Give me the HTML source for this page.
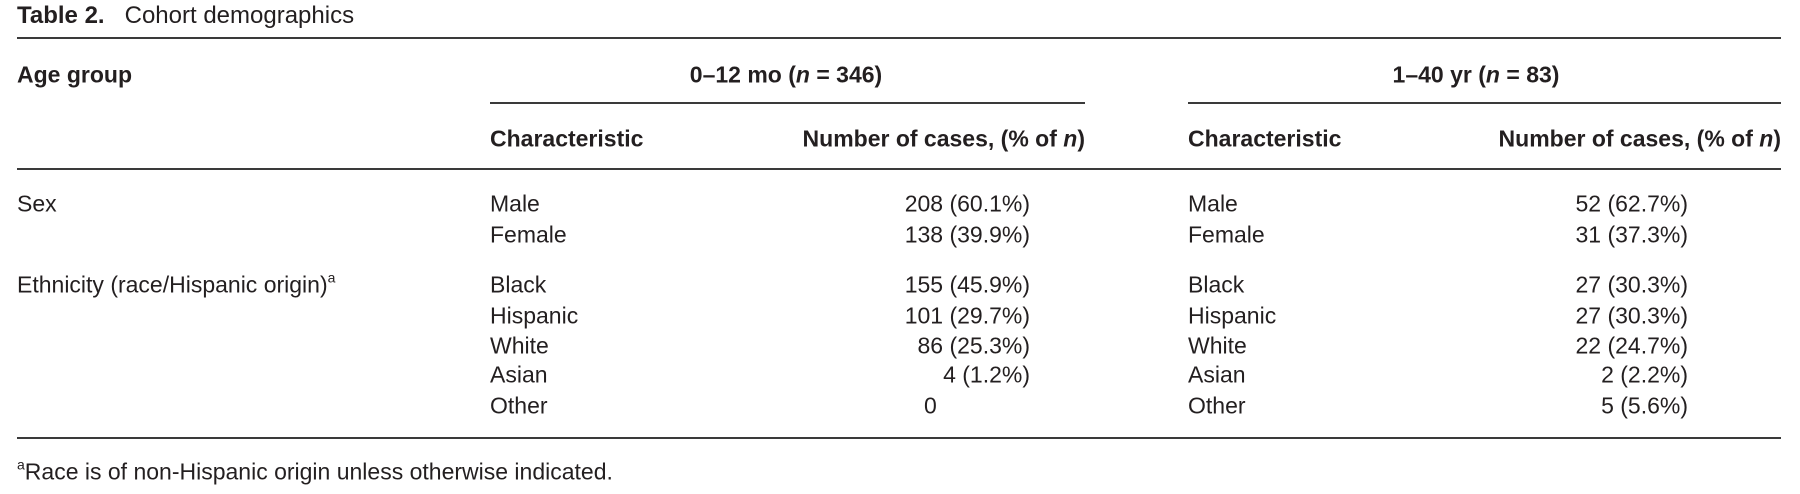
<!DOCTYPE html>
<html><head><meta charset="utf-8"><style>
html,body{margin:0;padding:0;background:#fff;}
body{width:1800px;height:494px;position:relative;overflow:hidden;font-family:"Liberation Sans",sans-serif;color:#231f20;font-size:23px;}
.t{position:absolute;white-space:nowrap;line-height:1;transform:translateY(-50%);}
.r{text-align:right;}
.b{font-weight:bold;}
.ln{position:absolute;height:2px;background:#3a3a3a;}
sup{font-size:14px;vertical-align:top;position:relative;top:-3px;}
</style></head><body>
<div class="t" style="left:17px;top:16px;font-size:24px"><b>Table 2.</b>&nbsp;&nbsp;&nbsp;<span>Cohort demographics</span></div>
<div class="ln" style="left:17px;width:1764px;top:37px"></div>
<div class="t b" style="left:17px;top:75px">Age group</div>
<div class="t b" style="left:786px;top:75px;transform:translate(-50%,-50%)">0–12 mo (<i>n</i> = 346)</div>
<div class="t b" style="left:1476px;top:75px;transform:translate(-50%,-50%)">1–40 yr (<i>n</i> = 83)</div>
<div class="ln" style="left:490px;width:595px;top:102px"></div>
<div class="ln" style="left:1188px;width:593px;top:102px"></div>
<div class="t b" style="left:490px;top:139px">Characteristic</div>
<div class="t b" style="right:715px;top:139px">Number of cases, (% of <i>n</i>)</div>
<div class="t b" style="left:1188px;top:139px">Characteristic</div>
<div class="t b" style="right:19px;top:139px">Number of cases, (% of <i>n</i>)</div>
<div class="ln" style="left:17px;width:1764px;top:168px"></div>

<div class="t" style="left:17px;top:204px">Sex</div>
<div class="t" style="left:17px;top:285px">Ethnicity (race/Hispanic origin)<sup>a</sup></div>

<div class="t" style="left:490px;top:204px">Male</div>
<div class="t" style="left:490px;top:235px">Female</div>
<div class="t" style="left:490px;top:285px">Black</div>
<div class="t" style="left:490px;top:316px">Hispanic</div>
<div class="t" style="left:490px;top:346px">White</div>
<div class="t" style="left:490px;top:375px">Asian</div>
<div class="t" style="left:490px;top:406px">Other</div>

<div class="t r" style="right:770px;top:204px">208 (60.1%)</div>
<div class="t r" style="right:770px;top:235px">138 (39.9%)</div>
<div class="t r" style="right:770px;top:285px">155 (45.9%)</div>
<div class="t r" style="right:770px;top:316px">101 (29.7%)</div>
<div class="t r" style="right:770px;top:346px">86 (25.3%)</div>
<div class="t r" style="right:770px;top:375px">4 (1.2%)</div>
<div class="t" style="left:924px;top:406px">0</div>

<div class="t" style="left:1188px;top:204px">Male</div>
<div class="t" style="left:1188px;top:235px">Female</div>
<div class="t" style="left:1188px;top:285px">Black</div>
<div class="t" style="left:1188px;top:316px">Hispanic</div>
<div class="t" style="left:1188px;top:346px">White</div>
<div class="t" style="left:1188px;top:375px">Asian</div>
<div class="t" style="left:1188px;top:406px">Other</div>

<div class="t r" style="right:112px;top:204px">52 (62.7%)</div>
<div class="t r" style="right:112px;top:235px">31 (37.3%)</div>
<div class="t r" style="right:112px;top:285px">27 (30.3%)</div>
<div class="t r" style="right:112px;top:316px">27 (30.3%)</div>
<div class="t r" style="right:112px;top:346px">22 (24.7%)</div>
<div class="t r" style="right:112px;top:375px">2 (2.2%)</div>
<div class="t r" style="right:112px;top:406px">5 (5.6%)</div>

<div class="ln" style="left:17px;width:1764px;top:437px"></div>
<div class="t" style="left:17px;top:472px"><sup>a</sup>Race is of non-Hispanic origin unless otherwise indicated.</div>
</body></html>
